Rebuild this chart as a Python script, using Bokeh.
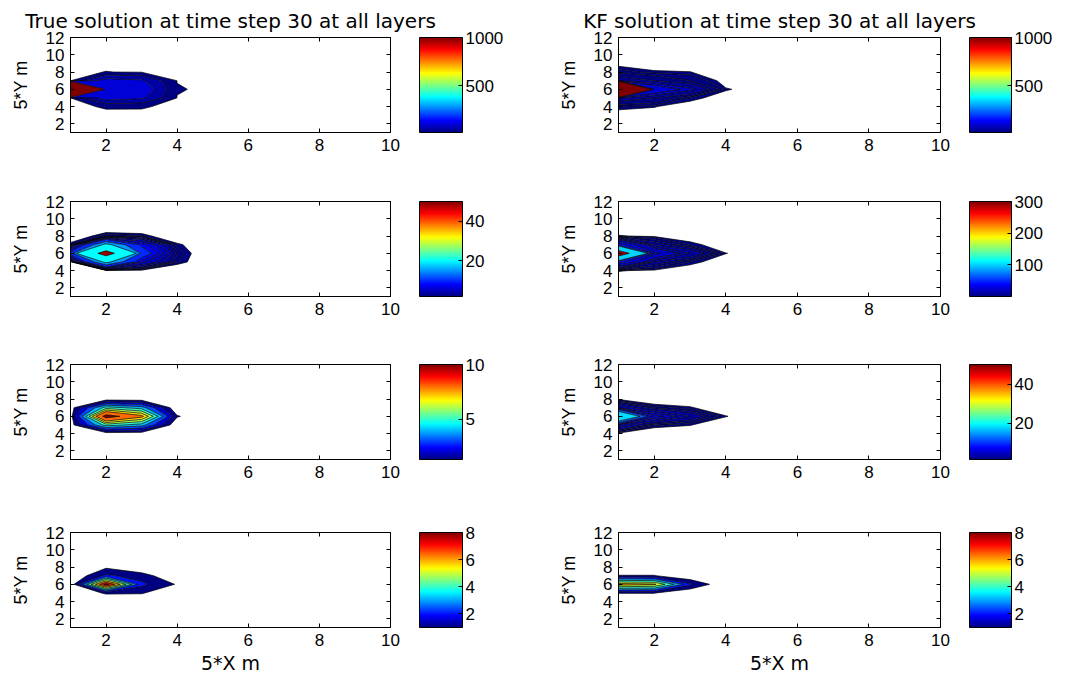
import numpy as np
from bokeh.plotting import figure
from bokeh.models import Range1d, FixedTicker, LinearAxis, LinearColorMapper, ColorBar
from bokeh.layouts import column, row
from bokeh.embed import file_html
from bokeh.resources import INLINE

# ---------------- data ----------------
x_nodes = list(range(1, 11))          # 5*X m grid
y_nodes = list(range(1, 13))          # 5*Y m grid
block_cols = [1, 2, 3, 4, 5]          # x of the non-zero block
block_rows = [9, 8, 7, 6, 5, 4, 3]    # y of the non-zero block (top to bottom)

true_l1 = [[0, 0, 0, 0, 0],
           [0, 5.5, 3, 0, 0],
           [4, 130, 110, 4.1, 0],
           [20000, 200, 150, 7, 0],
           [4, 130, 110, 4, 0],
           [0, 7.1, 7, 0, 0],
           [0, 0, 0, 0, 0]]
true_l2 = [[0, 0, 0, 0, 0],
           [0, 2.5, 2.1, 0, 0],
           [2, 22, 9, 1.8, 0],
           [12, 60, 13, 2.5, 0],
           [1, 22, 7, 2.1, 0],
           [0, 1, 1.2, 0, 0],
           [0, 0, 0, 0, 0]]
true_l3 = [[0, 0, 0, 0, 0],
           [0, 0.4, 0.4, 0, 0],
           [0.5, 5.5, 4.5, 0.14, 0],
           [0.5, 11, 8.4, 1.1, 0],
           [0.5, 5.5, 4.5, 0.14, 0],
           [0, 0.4, 0.4, 0, 0],
           [0, 0, 0, 0, 0]]
true_l4 = [[0, 0, 0, 0, 0],
           [0, 0.8, 0, 0, 0],
           [0, 2.2, 1.5, 0, 0],
           [0.17, 8.5, 2.25, 0.9, 0],
           [0, 1.15, 1.1, 0, 0],
           [0, 0, 0, 0, 0],
           [0, 0, 0, 0, 0]]
kf_l1 = [[0, 0, 0, 0, 0],
         [15, 6, 5.2, 0, 0],
         [60, 40, 20, 0, 0],
         [20000, 150, 80, 6, 0],
         [60, 40, 8, 0, 0],
         [8, 5.5, 0, 0, 0],
         [0, 0, 0, 0, 0]]
kf_l2 = [[0, 0, 0, 0, 0],
         [2.2, 1.5, 0, 0, 0],
         [47, 10, 3, 0, 0],
         [400, 33, 15, 2.1, 0],
         [47, 10, 3, 0, 0],
         [2.2, 1.5, 0, 0, 0],
         [0, 0, 0, 0, 0]]
kf_l3 = [[0, 0, 0, 0, 0],
         [1.3, 0, 0, 0, 0],
         [5, 2.5, 1.7, 0, 0],
         [35, 6.7, 4, 1.6, 0],
         [5, 2.2, 1.6, 0, 0],
         [1.3, 0, 0, 0, 0],
         [0, 0, 0, 0, 0]]
kf_l4 = [[0, 0, 0, 0, 0],
         [0, 0, 0, 0, 0],
         [1.05, 1.05, 0, 0, 0],
         [6.5, 6.2, 2.2, 0, 0],
         [1.05, 1.05, 0, 0, 0],
         [0, 0, 0, 0, 0],
         [0, 0, 0, 0, 0]]

levels_true = [[5, 50, 100, 1000, 50000],
               [1.5, 2, 2.5, 3, 4, 5, 6.5, 8, 10, 15, 20, 49, 70],
               [1, 2, 3, 4, 5, 6, 7, 8, 10, 12],
               [1, 2, 3, 4, 5, 6, 7, 8, 9]]
levels_kf = [[5, 10, 20, 40, 70, 100, 200, 1000, 50000],
             [2, 3, 5, 7, 10, 15, 20, 30, 40, 70, 100, 290, 500],
             [1.5, 2, 2.5, 3, 4, 5, 6, 8, 12, 18, 40],
             [1, 2, 3, 4, 5, 6, 7]]

clim_true = [(15, 1000), (2, 50), (1.3, 10), (1, 8)]
clim_kf = [(15, 1000), (0, 300), (1.5, 50), (1, 8)]
cbar_ticks_true = [[500, 1000], [20, 40], [5, 10], [2, 4, 6, 8]]
cbar_ticks_kf = [[500, 1000], [100, 200, 300], [20, 40], [2, 4, 6, 8]]

x_ticks = [2, 4, 6, 8, 10]
y_ticks = [2, 4, 6, 8, 10, 12]
titles = ["True solution at time step 30 at all layers",
          "KF solution at time step 30 at all layers"]
x_label = "5*X m"
y_label = "5*Y m"

# ---------------- helpers ----------------
def jet(t):
    t = float(np.clip(t, 0, 1))
    r = np.clip(1.5 - abs(4 * t - 3), 0, 1)
    g = np.clip(1.5 - abs(4 * t - 2), 0, 1)
    b = np.clip(1.5 - abs(4 * t - 1), 0, 1)
    return "#%02x%02x%02x" % (int(round(r * 255)), int(round(g * 255)), int(round(b * 255)))

jet256 = [jet(i / 255) for i in range(256)]

def grid(block):
    z = np.zeros((len(y_nodes), len(x_nodes)))
    for i, yv in enumerate(block_rows):
        for j, xv in enumerate(block_cols):
            z[yv - 1, xv - 1] = block[i][j]
    return z

TICK_FONT = "Liberation Sans"
row_heights = [164, 163, 168, 186]

def style_axis(ax):
    ax.major_tick_in = 4
    ax.major_tick_out = 0
    ax.minor_tick_line_color = None
    ax.axis_line_color = "black"
    ax.major_tick_line_color = "black"
    ax.major_label_text_color = "black"
    ax.major_label_text_font = TICK_FONT
    ax.major_label_text_font_size = "17px"

def make_panel(col, r):
    blocks = [true_l1, true_l2, true_l3, true_l4] if col == 0 else [kf_l1, kf_l2, kf_l3, kf_l4]
    levels = (levels_true if col == 0 else levels_kf)[r]
    cmin, cmax = (clim_true if col == 0 else clim_kf)[r]
    cbt = (cbar_ticks_true if col == 0 else cbar_ticks_kf)[r]
    fw = 320 if col == 0 else 322
    cbw = 43 if col == 0 else 42
    mbr = 158 if col == 0 else 138
    h = row_heights[r]
    p = figure(frame_width=fw, frame_height=95,
               min_border_left=70, min_border_right=mbr,
               min_border_top=37, min_border_bottom=h - 95 - 37,
               x_range=Range1d(1, 10), y_range=Range1d(1, 12),
               output_backend="svg", toolbar_location=None,
               title=titles[col] if r == 0 else "")
    p.background_fill_color = "white"
    p.border_fill_color = "white"
    p.outline_line_color = "black"
    p.xgrid.visible = False
    p.ygrid.visible = False
    p.title.text_font = "DejaVu Sans"
    p.title.text_font_size = "20px"
    p.title.text_font_style = "normal"
    p.title.align = "center"
    p.title.text_color = "black"

    p.xaxis.ticker = FixedTicker(ticks=x_ticks)
    p.yaxis.ticker = FixedTicker(ticks=y_ticks)
    style_axis(p.xaxis[0])
    style_axis(p.yaxis[0])
    p.xaxis.major_label_standoff = 6
    p.yaxis.major_label_standoff = 6
    p.yaxis.axis_label = y_label
    p.yaxis.axis_label_text_font = "Liberation Sans"
    p.yaxis.axis_label_text_font_size = "18px"
    p.yaxis.axis_label_text_font_style = "normal"
    p.yaxis.axis_label_text_color = "black"
    p.yaxis.axis_label_standoff = 12
    if r == 3:
        p.xaxis.axis_label = x_label
        p.xaxis.axis_label_text_font = "DejaVu Sans"
        p.xaxis.axis_label_text_font_size = "19px"
        p.xaxis.axis_label_text_font_style = "normal"
        p.xaxis.axis_label_text_color = "black"
        p.xaxis.axis_label_standoff = 3

    top = LinearAxis(ticker=FixedTicker(ticks=x_ticks),
                     major_label_overrides={t: "" for t in x_ticks})
    style_axis(top)
    top.major_label_standoff = 0
    p.add_layout(top, "above")
    rgt = LinearAxis(ticker=FixedTicker(ticks=y_ticks),
                     major_label_overrides={t: "" for t in y_ticks})
    style_axis(rgt)
    rgt.major_label_standoff = 0
    p.add_layout(rgt, "right")

    z = grid(blocks[r])
    fills = [jet((levels[i] - cmin) / (cmax - cmin)) for i in range(len(levels) - 1)]
    p.contour(x_nodes, y_nodes, z, levels, fill_color=fills,
              line_color="black", line_width=0.7)

    mapper = LinearColorMapper(palette=jet256, low=cmin, high=cmax)
    cb = ColorBar(color_mapper=mapper, ticker=FixedTicker(ticks=cbt),
                  location=(fw + 29, 0), width=cbw, height=95,
                  margin=0, padding=0,
                  bar_line_color="black", major_tick_line_color="black",
                  major_tick_in=4, major_tick_out=0, minor_tick_line_color=None,
                  label_standoff=3, major_label_text_font=TICK_FONT,
                  major_label_text_font_size="17px", major_label_text_color="black",
                  background_fill_color=None, border_line_color=None)
    p.add_layout(cb, "center")
    return p

rows = []
for r in range(4):
    rows.append(row(make_panel(0, r), make_panel(1, r), spacing=0))
layout = column(*rows, spacing=0)

open("out.html", "w").write(file_html(layout, INLINE))
